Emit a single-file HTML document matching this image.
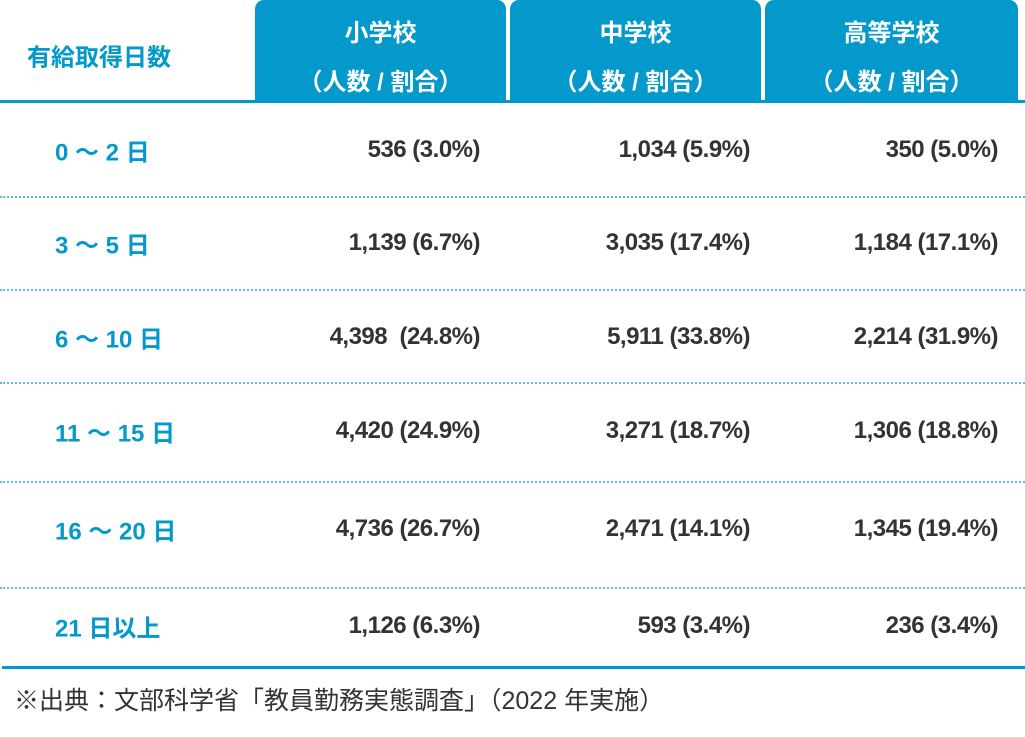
<!DOCTYPE html>
<html><head><meta charset="utf-8"><style>
body{margin:0;width:1025px;height:737px;background:#fff;position:relative;overflow:hidden;font-family:"Liberation Sans","Noto Sans CJK JP",sans-serif}
.tab{position:absolute;top:0;height:100px;background:#0399cb;border-radius:9px 9px 0 0;color:#fff;font-weight:bold;font-size:24px;text-align:center}
.tab div{position:absolute;left:0;right:0}
.lbl{position:absolute;color:#0399cb;font-weight:bold;font-size:24px;left:55px;white-space:nowrap;transform:translateY(-50%)}
.val{position:absolute;color:#333;font-weight:bold;font-size:24px;text-align:right;transform:translateY(-50%);letter-spacing:-0.5px}
.dot{position:absolute;left:0;width:1025px;border-top:2px dotted #5dbfe0}
</style></head><body>
<div class="lbl" style="top:55px;left:27px">有給取得日数</div>
<div class="tab" style="left:255px;width:251px"><div style="top:13px">小学校</div><div style="top:62px">（人数 / 割合）</div></div>
<div class="tab" style="left:510px;width:251px"><div style="top:13px">中学校</div><div style="top:62px">（人数 / 割合）</div></div>
<div class="tab" style="left:765px;width:253px"><div style="top:13px">高等学校</div><div style="top:62px">（人数 / 割合）</div></div>
<div style="position:absolute;left:0;top:100px;width:1025px;height:3px;background:#0399cb"></div>
<div id="rows"></div>
<div style="position:absolute;left:2px;top:666px;width:1023px;height:3px;background:#0399cb"></div>
<div style="position:absolute;left:14px;top:681px;font-size:25px;color:#333;white-space:nowrap">※出典：文部科学省「教員勤務実態調査」（2022 年実施）</div>
<script>
const labels=["0 ～ 2 日","3 ～ 5 日","6 ～ 10 日","11 ～ 15 日","16 ～ 20 日","21 日以上"];
const elem=["536 (3.0%)","1,139 (6.7%)","4,398  (24.8%)","4,420 (24.9%)","4,736 (26.7%)","1,126 (6.3%)"];
const junior=["1,034 (5.9%)","3,035 (17.4%)","5,911 (33.8%)","3,271 (18.7%)","2,471 (14.1%)","593 (3.4%)"];
const high=["350 (5.0%)","1,184 (17.1%)","2,214 (31.9%)","1,306 (18.8%)","1,345 (19.4%)","236 (3.4%)"];
const ys=[150,243,337,431,529,626],dl=[196,289,382,481,587];
const rows=document.getElementById('rows');
labels.forEach((l,i)=>{
 const a=document.createElement('div');a.className='lbl';a.style.top=ys[i]+'px';a.textContent=l;
 
 
 rows.appendChild(a);
 [[elem,480],[junior,750],[high,998]].forEach(([arr,r])=>{
  const v=document.createElement('div');v.className='val';v.style.top=ys[i]+'px';v.style.right=(1025-r)+'px';v.style.whiteSpace='pre';v.textContent=arr[i];
  
  
  rows.appendChild(v);
 });
});
dl.forEach(y=>{const d=document.createElement('div');d.className='dot';d.style.top=y+'px';
 
 
 rows.appendChild(d);});
</script>
</body></html>
